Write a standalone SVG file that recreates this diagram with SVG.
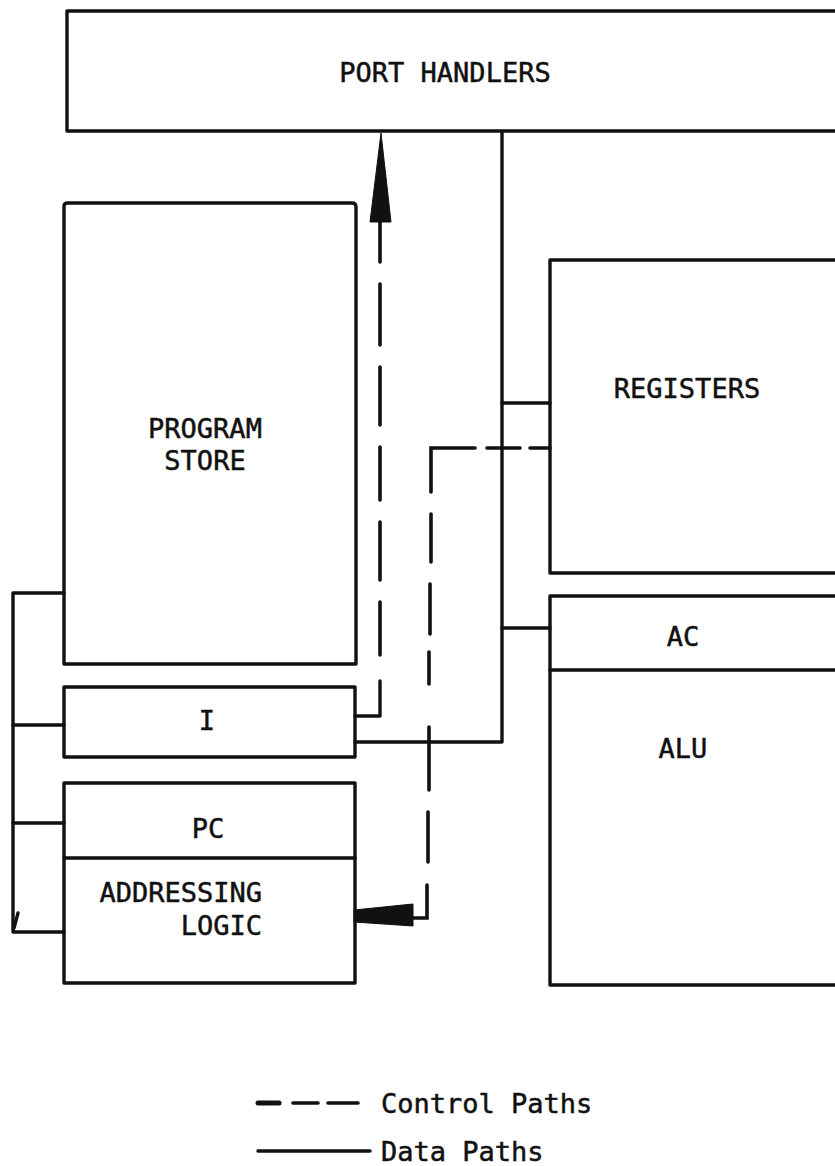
<svg xmlns="http://www.w3.org/2000/svg" width="835" height="1166" viewBox="0 0 835 1166">
<style>
.box{fill:none;stroke:#111;stroke-width:3.4;stroke-linejoin:round}
.ln{fill:none;stroke:#111;stroke-width:3.4;stroke-linecap:round;stroke-linejoin:round}
.dash{fill:none;stroke:#111;stroke-width:3.6;stroke-linecap:round}
.t{font-family:"DejaVu Sans Mono","Liberation Mono",monospace;font-size:27px;fill:#111;stroke:#111;stroke-width:0.5}
.head{fill:#111;stroke:#111;stroke-width:1}
</style>
<rect width="835" height="1166" fill="#fff"/>
<g id="port-handlers">
<path class="box" d="M840,11 H67 V131 H840"/>
<text class="t" x="445" y="82" text-anchor="middle">PORT HANDLERS</text>
</g>
<g id="program-store">
<path class="box" d="M64,664 V206 Q64,203 68,203 H352 Q356,203 356,207 V664 Z"/>
<text class="t" x="205" y="438" text-anchor="middle">PROGRAM</text>
<text class="t" x="205" y="470" text-anchor="middle">STORE</text>
</g>
<g id="i-register">
<rect class="box" x="64" y="687" width="291" height="70"/>
<text class="t" x="207" y="730" text-anchor="middle">I</text>
</g>
<g id="pc-addressing">
<rect class="box" x="64" y="783" width="291" height="200"/>
<line class="ln" x1="64" y1="858" x2="355" y2="858"/>
<text class="t" x="208" y="838" text-anchor="middle">PC</text>
<text class="t" x="262" y="902" text-anchor="end">ADDRESSING</text>
<text class="t" x="262" y="935" text-anchor="end">LOGIC</text>
</g>
<g id="registers">
<path class="box" d="M840,260 H550 V573 H840"/>
<text class="t" x="687" y="398" text-anchor="middle">REGISTERS</text>
</g>
<g id="ac-alu">
<path class="box" d="M840,596 H550 V985 H840"/>
<line class="ln" x1="550" y1="670" x2="840" y2="670"/>
<text class="t" x="683" y="646" text-anchor="middle">AC</text>
<text class="t" x="683" y="758" text-anchor="middle">ALU</text>
</g>
<g id="connectors">
<path class="ln" d="M502,132 V742 H355"/>
<line class="ln" x1="502" y1="403" x2="550" y2="403"/>
<line class="ln" x1="502" y1="628" x2="550" y2="628"/>
<path class="ln" d="M64,593 H13 V932 H64"/>
<line class="ln" x1="13" y1="725" x2="64" y2="725"/>
<line class="ln" x1="13" y1="823" x2="64" y2="823"/>
<line class="ln" x1="14" y1="928" x2="18" y2="913"/>
<path class="ln" d="M355,716 H380 V681"/>
<g class="dash">
<line x1="380" y1="222" x2="380" y2="262"/>
<line x1="380" y1="284" x2="380" y2="345"/>
<line x1="380" y1="367" x2="380" y2="425"/>
<line x1="380" y1="447" x2="380" y2="500"/>
<line x1="380" y1="522" x2="380" y2="580"/>
<line x1="380" y1="602" x2="380" y2="655"/>
</g>
<polygon class="head" points="381,133 370,222 391,222"/>
<g class="dash">
<line x1="530" y1="448" x2="550" y2="448"/>
<line x1="487" y1="448" x2="520" y2="448"/>
<path d="M475,448 H431 V492"/>
<line x1="431" y1="514" x2="431" y2="562"/>
<line x1="430" y1="584" x2="430" y2="634"/>
<line x1="429" y1="652" x2="429" y2="684"/>
<line x1="429" y1="727" x2="429" y2="790"/>
<line x1="428" y1="812" x2="428" y2="862"/>
<path d="M427,885 V918 H413"/>
</g>
<polygon class="head" points="354,910 413,904 413,926 354,922"/>
</g>
<g id="legend">
<line x1="258" y1="1103" x2="279" y2="1103" stroke="#111" stroke-width="5" stroke-linecap="round"/>
<line class="dash" x1="293" y1="1103" x2="318" y2="1103"/>
<line class="dash" x1="328" y1="1103" x2="358" y2="1103"/>
<text class="t" x="381" y="1113">Control Paths</text>
<line class="ln" x1="258" y1="1151" x2="370" y2="1151" stroke-width="4"/>
<text class="t" x="381" y="1161">Data Paths</text>
</g>
</svg>
